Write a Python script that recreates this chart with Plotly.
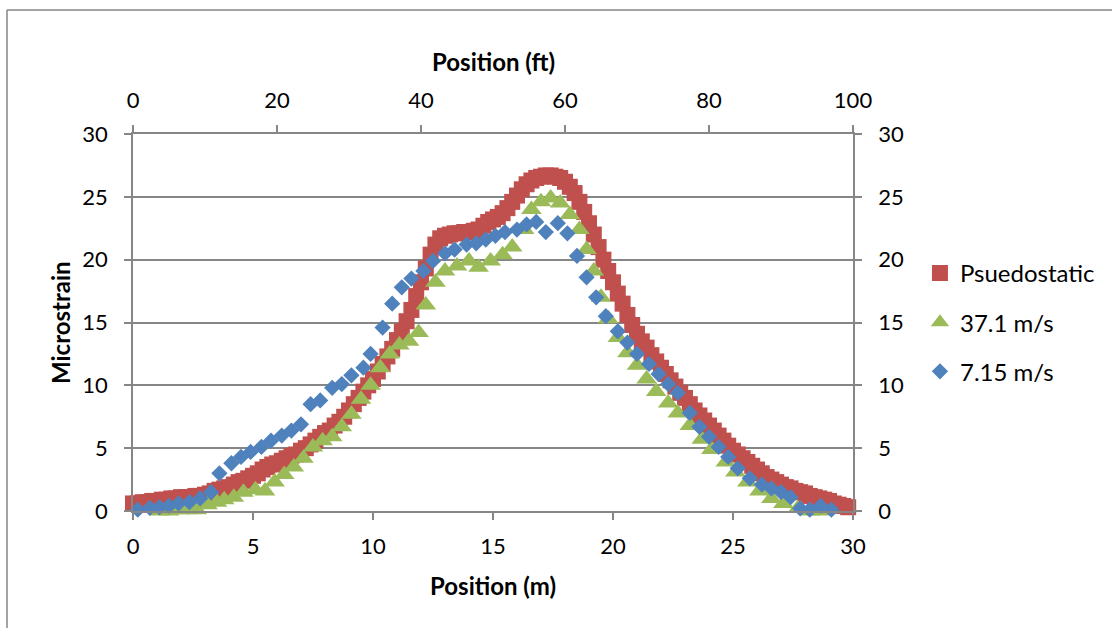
import plotly.graph_objects as go

# Psuedostatic case: strain read every 0.2 m along the span
red_pos = [round(0.2 * i, 1) for i in range(150)]
psuedostatic = [
    0.6, 0.6, 0.7, 0.7, 0.8, 0.8, 0.9, 0.9, 1.0, 1.0,
    1.1, 1.1, 1.1, 1.2, 1.2, 1.3, 1.4, 1.6, 1.7, 1.8,
    1.9, 2.1, 2.3, 2.4, 2.6, 2.8, 3.0, 3.3, 3.5, 3.7,
    3.8, 4.0, 4.2, 4.4, 4.5, 4.8, 5.0, 5.3, 5.6, 5.9,
    6.2, 6.4, 6.8, 7.1, 7.5, 8.0, 8.5, 9.0, 9.5, 10.0,
    10.5, 11.1, 11.7, 12.3, 12.9, 13.6, 14.3, 15.1, 16.0, 17.1,
    18.2, 19.3, 20.4, 21.2, 21.7, 21.9, 22.0, 22.1, 22.1, 22.2,
    22.2, 22.3, 22.4, 22.7, 23.0, 23.2, 23.4, 23.7, 24.1, 24.6,
    25.1, 25.6, 26.0, 26.3, 26.5, 26.6, 26.7, 26.7, 26.6, 26.5,
    26.2, 25.8, 25.3, 24.6, 23.8, 22.9, 22.0, 21.0, 20.0, 19.1,
    18.2, 17.3, 16.5, 15.6, 14.8, 14.1, 13.5, 13.0, 12.4, 11.9,
    11.4, 10.9, 10.4, 9.9, 9.4, 9.0, 8.5, 8.0, 7.6, 7.2,
    6.8, 6.4, 6.0, 5.6, 5.2, 4.8, 4.5, 4.2, 3.9, 3.6,
    3.3, 3.0, 2.7, 2.5, 2.3, 2.1, 1.9, 1.8, 1.6, 1.5,
    1.4, 1.2, 1.1, 1.0, 0.9, 0.8, 0.6, 0.5, 0.4, 0.3,
]

# Vehicle at 37.1 m/s
green_pos = [
    1.1, 1.5, 1.9, 2.3, 2.65, 3.1, 3.5, 3.8, 4.2, 4.6,
    5.1, 5.5, 5.9, 6.3, 6.7, 7.1, 7.5, 7.9, 8.3, 8.7,
    9.1, 9.5, 9.9, 10.3, 10.7, 11.1, 11.5, 11.9, 12.2, 12.6,
    13.0, 13.5, 14.0, 14.4, 14.9, 15.4, 15.8, 16.3, 16.6, 17.0,
    17.4, 17.8, 18.2, 18.6, 18.9, 19.2, 19.5, 19.8, 20.2, 20.6,
    21.0, 21.4, 21.8, 22.3, 22.7, 23.2, 23.7, 24.1, 24.7, 25.1,
    25.6, 26.1, 26.6, 27.1, 27.7, 28.2, 28.6,
]
speed_37 = [
    0.0, 0.0, 0.1, 0.1, 0.1, 0.5, 0.7, 0.9, 1.1, 1.5,
    1.7, 1.6, 2.3, 2.9, 3.5, 4.2, 5.1, 5.6, 5.9, 6.7,
    7.7, 8.9, 10.0, 11.4, 12.5, 13.2, 13.5, 14.2, 16.4, 18.2,
    19.1, 19.5, 19.9, 19.4, 19.9, 20.4, 21.0, 22.4, 24.0, 24.6,
    24.9, 24.5, 23.6, 22.4, 20.8, 19.1, 17.0, 15.3, 13.8, 12.6,
    11.6, 10.5, 9.5, 8.6, 7.8, 6.8, 5.7, 4.9, 3.9, 3.1,
    2.3, 1.6, 1.0, 0.6, 0.2, 0.0, 0.0,
]

# Vehicle at 7.15 m/s
blue_pos = [
    0.2, 0.7, 1.1, 1.5, 1.9, 2.35, 2.8, 3.25, 3.6, 4.1,
    4.5, 4.9, 5.35, 5.75, 6.2, 6.6, 7.0, 7.4, 7.8, 8.3,
    8.7, 9.1, 9.6, 9.9, 10.4, 10.8, 11.2, 11.6, 12.1, 12.5,
    13.0, 13.4, 13.9, 14.3, 14.7, 15.1, 15.5, 16.0, 16.4, 16.8,
    17.2, 17.7, 18.1, 18.5, 18.9, 19.3, 19.7, 20.2, 20.6, 21.0,
    21.5, 21.9, 22.3, 22.7, 23.2, 23.6, 24.0, 24.4, 24.8, 25.2,
    25.7, 26.2, 26.6, 27.0, 27.4, 27.8, 28.2, 28.65, 29.1,
]
speed_7 = [
    0.1, 0.25, 0.3, 0.4, 0.6, 0.7, 1.0, 1.5, 3.0, 3.8,
    4.3, 4.7, 5.1, 5.6, 6.0, 6.4, 6.9, 8.5, 8.8, 9.8,
    10.1, 10.8, 11.4, 12.5, 14.6, 16.5, 17.8, 18.5, 19.1, 19.9,
    20.5, 20.8, 21.2, 21.3, 21.6, 21.9, 22.2, 22.4, 22.8, 23.0,
    22.2, 22.9, 22.1, 20.3, 18.6, 17.0, 15.5, 14.3, 13.4, 12.5,
    11.7, 10.9, 10.1, 9.4, 7.8, 6.7, 5.9, 5.1, 4.3, 3.4,
    2.6, 2.1, 1.8, 1.5, 1.1, 0.2, 0.1, 0.4, 0.1,
]

m_ticks = [0, 5, 10, 15, 20, 25, 30]
ft_ticks = [0, 20, 40, 60, 80, 100]
strain_ticks = [0, 5, 10, 15, 20, 25, 30]

FONT = "Lato"
GREY = "#868686"

fig = go.Figure()
fig.add_trace(go.Scatter(
    x=red_pos, y=psuedostatic, mode="markers", name="Psuedostatic",
    legendgroup="g1", cliponaxis=False,
    marker=dict(symbol="square", size=16, color="#C0504D", line=dict(width=0)),
))
fig.add_trace(go.Scatter(
    x=green_pos, y=speed_37, mode="markers", name="37.1 m/s",
    legendgroup="g2", cliponaxis=False,
    marker=dict(symbol="triangle-up", size=18, color="#9BBB59", line=dict(width=0)),
))
fig.add_trace(go.Scatter(
    x=blue_pos, y=speed_7, mode="markers", name="7.15 m/s",
    legendgroup="g3", cliponaxis=False,
    marker=dict(symbol="diamond", size=12.5, color="#4F81BD", line=dict(width=0)),
))
# empty trace that carries the secondary (ft / right-hand) axes
fig.add_trace(go.Scatter(x=[], y=[], xaxis="x2", yaxis="y2",
                         showlegend=False, hoverinfo="skip"))

tick_font = dict(family=FONT, size=22, color="black")
axis_common = dict(
    showline=True, linecolor=GREY, linewidth=1.5,
    ticks="outside", tickcolor=GREY, tickwidth=1.5, ticklen=7,
    tickfont=tick_font, zeroline=False, fixedrange=True,
)

fig.update_layout(
    width=1112, height=628,
    margin=dict(l=133, r=259, t=134, b=117, autoexpand=False),
    paper_bgcolor="white", plot_bgcolor="white",
    font=dict(family=FONT, color="black"),
    xaxis=dict(range=[0, 30], tickvals=m_ticks, showgrid=False,
               ticklabelstandoff=8, **axis_common),
    xaxis2=dict(range=[0, 100], tickvals=ft_ticks, overlaying="x", side="top",
                anchor="y", showgrid=False, ticklabelstandoff=8, **axis_common),
    yaxis=dict(range=[0, 30], tickvals=strain_ticks, showgrid=True,
               gridcolor=GREY, gridwidth=1.5, ticklabelstandoff=12, **axis_common),
    yaxis2=dict(range=[0, 30], tickvals=strain_ticks, overlaying="y", side="right",
                anchor="x", showgrid=False, ticklabelstandoff=12, **axis_common),
    legend=dict(x=1.093, y=0.69, xanchor="left", yanchor="top",
                font=dict(family=FONT, size=24, color="black"),
                tracegroupgap=15, bgcolor="rgba(0,0,0,0)"),
    showlegend=True,
)

title_font = dict(family=FONT, size=24, color="black", weight="bold")
fig.add_annotation(text="Position (ft)", x=0.5, y=1.1936, xref="paper", yref="paper",
                   showarrow=False, font=title_font, xanchor="center", yanchor="middle")
fig.add_annotation(text="Position (m)", x=0.5, y=-0.1963, xref="paper", yref="paper",
                   showarrow=False, font=title_font, xanchor="center", yanchor="middle")
fig.add_annotation(text="Microstrain", x=-0.1014, y=0.5013, xref="paper", yref="paper",
                   showarrow=False, font=title_font, textangle=-90,
                   xanchor="center", yanchor="middle")

# chart frame (left and top edges)
fx = lambda px: (px - 133) / 720
fy = lambda py: (511 - py) / 377
fig.add_shape(type="line", xref="paper", yref="paper",
              x0=fx(7), y0=fy(10), x1=fx(7), y1=fy(640),
              line=dict(color=GREY, width=1.5))
fig.add_shape(type="line", xref="paper", yref="paper",
              x0=fx(7), y0=fy(10), x1=fx(1120), y1=fy(10),
              line=dict(color=GREY, width=1.5))

fig.write_html("out.html")
